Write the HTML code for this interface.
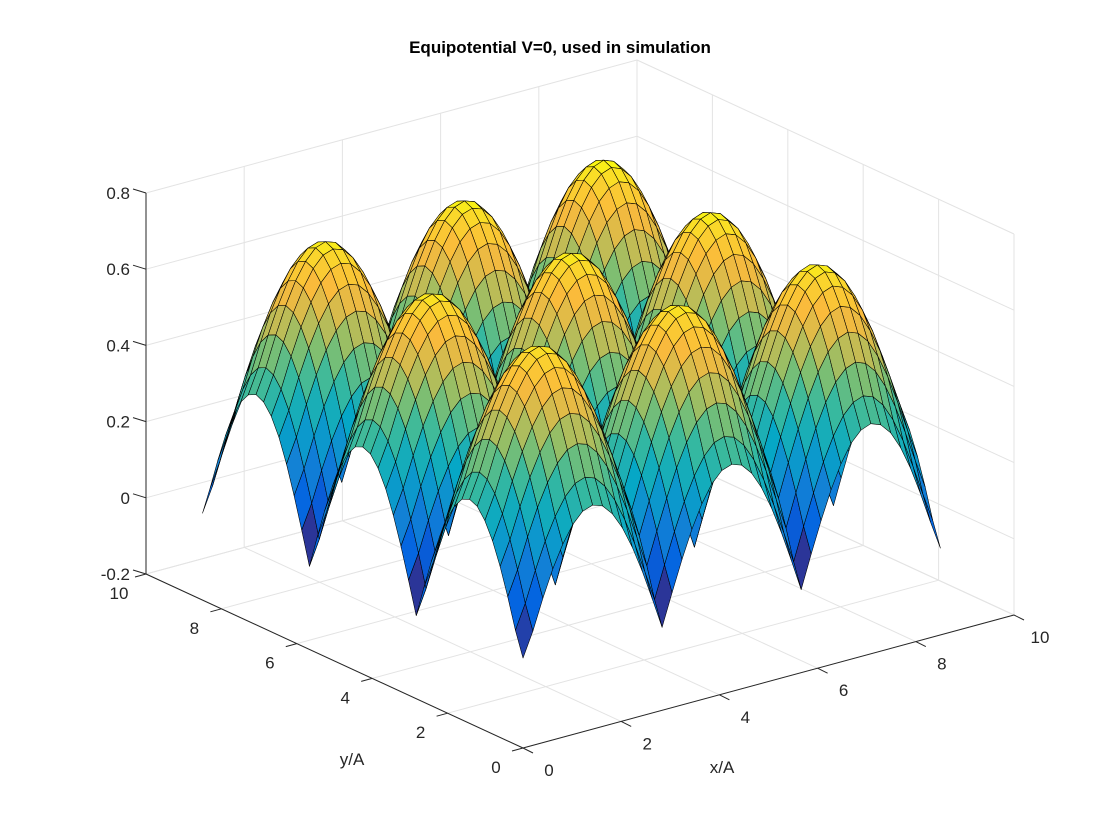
<!DOCTYPE html>
<html>
<head>
<meta charset="utf-8">
<style>
  html,body{margin:0;padding:0;background:#fff;}
  svg{display:block;font-family:"Liberation Sans",Arial,sans-serif;}
</style>
</head>
<body>
<svg id="chart" width="1120" height="840" viewBox="0 0 1120 840" xmlns="http://www.w3.org/2000/svg">
  <rect x="0" y="0" width="1120" height="840" fill="#ffffff"/>
  <text x="560" y="53" text-anchor="middle" font-size="17" font-weight="bold" fill="#000">Equipotential V=0, used in simulation</text>
  <g id="grid"></g>
  <g id="axes"></g>
  <g id="surface"></g>
  <g id="labels"></g>
  <text x="352" y="765" text-anchor="middle" font-size="17" fill="#262626">y/A</text>
  <text x="722" y="773" text-anchor="middle" font-size="17" fill="#262626">x/A</text>
</svg>
<script>
// ---- data ----
const xGrid = [0,0.202,0.405,0.607,0.810,1.012,1.214,1.417,1.619,1.821,2.024,2.226,2.429,2.631,2.833,3.036,3.238,3.440,3.643,3.845,4.048,4.250,4.452,4.655,4.857,5.060,5.262,5.464,5.667,5.869,6.071,6.274,6.476,6.679,6.881,7.083,7.286,7.488,7.690,7.893,8.095,8.298,8.5];
const yGrid = [0,0.202,0.405,0.607,0.810,1.012,1.214,1.417,1.619,1.821,2.024,2.226,2.429,2.631,2.833,3.036,3.238,3.440,3.643,3.845,4.048,4.250,4.452,4.655,4.857,5.060,5.262,5.464,5.667,5.869,6.071,6.274,6.476,6.679,6.881,7.083,7.286,7.488,7.690,7.893,8.095,8.298,8.5];
const profileX = [0.018,0.082,0.161,0.231,0.289,0.333,0.361,0.370,0.361,0.333,0.289,0.231,0.161,0.082,
                  0,0.084,0.164,0.236,0.296,0.341,0.369,0.378,0.369,0.341,0.296,0.236,0.164,0.084,
                  0,0.086,0.167,0.241,0.302,0.348,0.376,0.386,0.376,0.348,0.302,0.241,0.167,0.086,0.01];
const profileY = [0.018,0.082,0.161,0.231,0.289,0.333,0.361,0.370,0.361,0.333,0.289,0.231,0.161,0.082,
                  0,0.084,0.164,0.236,0.296,0.341,0.369,0.378,0.369,0.341,0.296,0.236,0.164,0.084,
                  0,0.086,0.167,0.241,0.302,0.348,0.376,0.386,0.376,0.348,0.302,0.241,0.167,0.086,0.01];
const xTicks = [0,2,4,6,8,10];
const yTicks = [0,2,4,6,8,10];
const zTicks = [-0.2,0,0.2,0.4,0.6,0.8];
const xTickLabels = ["0","2","4","6","8","10"];
const yTickLabels = ["0","2","4","6","8","10"];
const zTickLabels = ["-0.2","0","0.2","0.4","0.6","0.8"];

// ---- projection (MATLAB default view az=-37.5, el=30) ----
const X0=0, X1=10, Y0=0, Y1=10, Z0=-0.2, Z1=0.8;
function proj(x,y,z){
  return [523 + 49.1*x - 37.7*y, 748 - 13.3*x - 17.4*y - 381*(z - Z0)];
}
function depth(x,y,z){ return -0.527*x/10 - 0.687*y/10 + 0.5*(z - Z0); }

const NS="http://www.w3.org/2000/svg";
function line(g,p,q,stroke,w){
  const l=document.createElementNS(NS,"line");
  l.setAttribute("x1",p[0].toFixed(1));l.setAttribute("y1",p[1].toFixed(1));
  l.setAttribute("x2",q[0].toFixed(1));l.setAttribute("y2",q[1].toFixed(1));
  l.setAttribute("stroke",stroke);l.setAttribute("stroke-width",w);
  g.appendChild(l);return l;
}
const grid=document.getElementById("grid");
const gc="#e3e3e3";
xTicks.forEach(t=>{const l=line(grid,proj(t,Y0,Z0),proj(t,Y1,Z0),gc,1);

});
yTicks.forEach(t=>{const l=line(grid,proj(X0,t,Z0),proj(X1,t,Z0),gc,1);

});
xTicks.forEach(t=>{const l=line(grid,proj(t,Y1,Z0),proj(t,Y1,Z1),gc,1);

});
zTicks.forEach(t=>{const l=line(grid,proj(X0,Y1,t),proj(X1,Y1,t),gc,1);

});
yTicks.forEach(t=>{const l=line(grid,proj(X1,t,Z0),proj(X1,t,Z1),gc,1);

});
zTicks.forEach(t=>{const l=line(grid,proj(X1,Y0,t),proj(X1,Y1,t),gc,1);

});

const axes=document.getElementById("axes");
const ac="#262626";
let a1=line(axes,proj(X0,Y1,Z0),proj(X0,Y1,Z1),ac,1);


let a2=line(axes,proj(X0,Y1,Z0),proj(X0,Y0,Z0),ac,1);


let a3=line(axes,proj(X0,Y0,Z0),proj(X1,Y0,Z0),ac,1);



const labels=document.getElementById("labels");
function txt(x,y,s,anchor,name){
  const t=document.createElementNS(NS,"text");
  t.setAttribute("x",x.toFixed(1));t.setAttribute("y",y.toFixed(1));
  t.setAttribute("text-anchor",anchor);t.setAttribute("font-size","17");
  t.setAttribute("fill","#262626");t.textContent=s;
  
  
  labels.appendChild(t);
}
zTicks.forEach((t,i)=>{
  const p=proj(X0,Y1,t);
  const tk=line(axes,p,[p[0]-13,p[1]-4],ac,1);
  
  
  txt(p[0]-16,p[1]+6,zTickLabels[i],"end","z-tick-label");
});
yTicks.forEach((t,i)=>{
  const p=proj(X0,t,Z0);
  const tk=line(axes,p,[p[0]-11,p[1]+3],ac,1);
  
  
  txt(p[0]-27,p[1]+25,yTickLabels[i],"middle","y-tick-label");
});
xTicks.forEach((t,i)=>{
  const p=proj(t,Y0,Z0);
  const tk=line(axes,p,[p[0]+10,p[1]+5],ac,1);
  
  
  txt(p[0]+26,p[1]+28,xTickLabels[i],"middle","x-tick-label");
});

// parula colormap
const par=[[0,[53,42,135]],[0.12,[3,99,225]],[0.25,[20,133,212]],[0.375,[6,167,198]],
[0.5,[56,185,158]],[0.62,[135,191,108]],[0.72,[205,187,80]],[0.82,[250,186,60]],[0.92,[250,212,45]],[1,[249,251,14]]];
function cmap(t){
  t=Math.max(0,Math.min(1,t));
  for(let i=1;i<par.length;i++){
    if(t<=par[i][0]){
      const a=par[i-1],b=par[i],f=(t-a[0])/(b[0]-a[0]);
      const c=a[1].map((v,k)=>Math.round(v+(b[1][k]-v)*f));
      return "rgb("+c.join(",")+")";
    }
  }
  return "rgb(249,251,14)";
}

const Z=[];
for(let i=0;i<xGrid.length;i++){Z.push([]);for(let j=0;j<yGrid.length;j++){Z[i].push(profileX[i]+profileY[j]);}}
let zmin=Infinity,zmax=-Infinity;
Z.forEach(r=>r.forEach(v=>{zmin=Math.min(zmin,v);zmax=Math.max(zmax,v);}));
const quads=[];
for(let i=0;i<xGrid.length-1;i++){
  for(let j=0;j<yGrid.length-1;j++){
    const pts=[[i,j],[i+1,j],[i+1,j+1],[i,j+1]].map(([a,b])=>[xGrid[a],yGrid[b],Z[a][b]]);
    const zc=(pts[0][2]+pts[1][2]+pts[2][2]+pts[3][2])/4;
    const xc=(pts[0][0]+pts[2][0])/2, yc=(pts[0][1]+pts[2][1])/2;
    quads.push({pts,zc,cz:pts[0][2],d:depth(xc,yc,zc)});
  }
}
quads.sort((a,b)=>a.d-b.d);
const surf=document.getElementById("surface");
quads.forEach(q=>{
  const p=document.createElementNS(NS,"polygon");
  p.setAttribute("points",q.pts.map(v=>{const s=proj(v[0],v[1],v[2]);return s[0].toFixed(1)+","+s[1].toFixed(1);}).join(" "));
  p.setAttribute("fill",cmap((q.cz-zmin)/(zmax-zmin)));
  p.setAttribute("stroke","#000");
  p.setAttribute("stroke-width","0.55");
  p.setAttribute("stroke-linejoin","round");
  
  
  surf.appendChild(p);
});
</script>
</body>
</html>
